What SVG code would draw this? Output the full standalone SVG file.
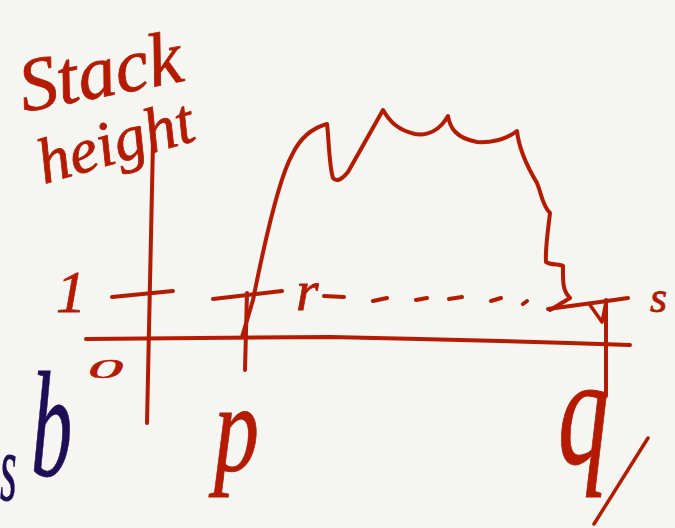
<svg xmlns="http://www.w3.org/2000/svg" width="675" height="528" viewBox="0 0 675 528">
<style>
.ink{fill:none;stroke:#b51b02;stroke-linecap:round;stroke-linejoin:round}
.t{fill:#b51b02;stroke:#b51b02;stroke-width:0.8;font-family:"Liberation Serif",serif;font-style:italic}
.n{fill:#1c0f55;stroke:#1c0f55;stroke-width:0.8;font-family:"Liberation Serif",serif;font-style:italic}
</style>
<rect width="675" height="528" fill="#f5f5f1"/>
<g id="label-stack-height">
<text class="t" font-size="76" transform="translate(24,112) rotate(-11)">Stack</text>
<text class="t" font-size="64" transform="translate(44,184) rotate(-16)">height</text>
</g>
<g id="axes">
<path class="ink" stroke-width="4" d="M153,142 L147,423"/>
<path class="ink" stroke-width="4" d="M86,339 L330,337 Q480,340 630,345"/>
<path class="ink" stroke-width="4" d="M112,297 L173,291"/>
<path class="ink" stroke-width="4" d="M213,299 L282,291"/>
<path class="ink" stroke-width="4" d="M247,293 L245,370"/>
<path class="ink" stroke-width="4" d="M548,309 L600,302 L628,298"/>
<path class="ink" stroke-width="3.5" d="M590,305 L602,322 L606,302"/>
<path class="ink" stroke-width="4" d="M606,300 L606,396"/>
</g>
<g id="curve">
<path class="ink" stroke-width="4" d="M242,337 L253,300 C262,255 278,180 292,155 C300,138 312,128 327,124 C329,140 329,165 333,178 C337,183 343,178 348,172 L383,110 C390,122 398,130 415,134 C428,136 440,130 448,116 C450,128 456,138 477,142 C495,143 508,138 517,131 C519,150 528,168 537,183 C542,195 542,205 550,213 C548,230 545,250 546,262 C552,266 560,263 563,266 C563,280 562,290 570,298 L550,310"/>
</g>
<g id="dashes">
<path class="ink" stroke-width="4" d="M324,296 L344,297 M373,301 L387,298 M416,300 L427,298 M449,299 L462,297 M491,301 L501,298 M523,304 L527,301"/>
</g>
<g id="labels">
<text class="t" font-size="60" x="56" y="312">1</text>
<text class="t" font-size="44" transform="translate(88,378) scale(1.6,0.62)">0</text>
<text class="t" font-size="120" transform="translate(214,470) scale(0.75,1.05)">p</text>
<text class="t" font-size="58" x="296" y="310">r</text>
<text class="t" font-size="44" x="650" y="312">s</text>
<text class="t" font-size="120" transform="translate(558,464) scale(0.85,1.3)">q</text>
<path class="ink" stroke-width="3.5" d="M594,524 L648,438"/>
<text class="n" font-size="95" transform="translate(0,500) scale(0.45,1)">s</text>
<text class="n" font-size="150" transform="translate(31,476) scale(0.55,1)">b</text>
</g>
</svg>
